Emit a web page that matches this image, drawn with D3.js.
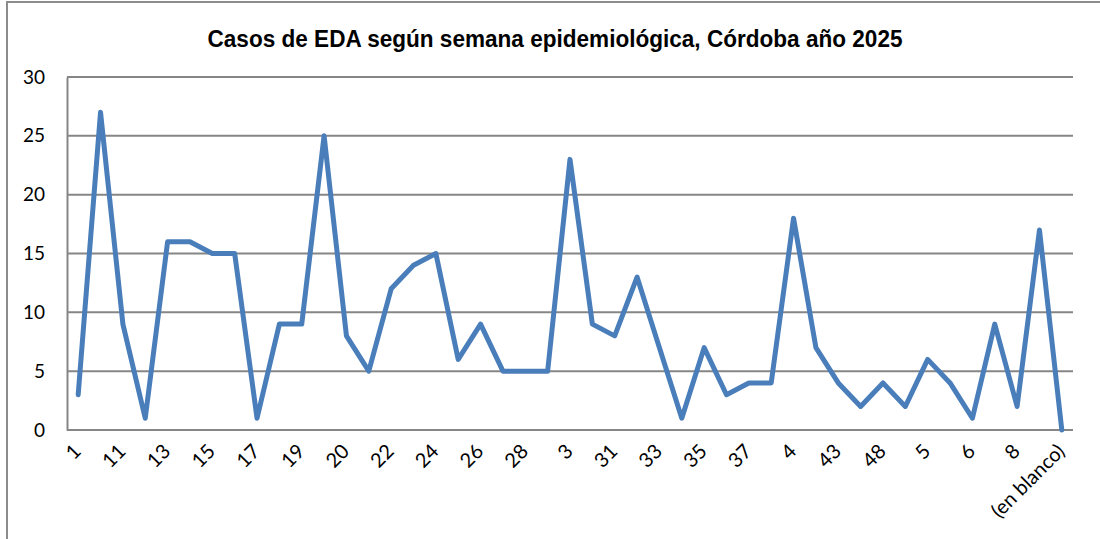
<!DOCTYPE html>
<html>
<head>
<meta charset="utf-8">
<script src="https://cdn.jsdelivr.net/npm/d3@7"></script>
<style>
  html, body { margin: 0; padding: 0; background: #fff; }
  svg { display: block; }
</style>
</head>
<body>
<script>
// Epidemiological weeks (as text, sorted the way the pivot table lists them)
const weeks = ["1","10","11","12","13","14","15","16","17","18","19","2","20","21","22","23",
  "24","25","26","27","28","29","3","30","31","32","33","34","35","36","37","39","4","41",
  "43","46","48","49","5","51","6","7","8","9","(en blanco)"];

// Cases of EDA per week
const cases = [3,27,9,1,16,16,15,15,1,9,9,25,8,5,12,14,15,6,9,5,5,5,23,9,8,13,7,1,7,3,
  4,4,18,7,4,2,4,2,6,4,1,9,2,17,0];

const yTicks = [0,5,10,15,20,25,30];
const titleText = "Casos de EDA según semana epidemiológica, Córdoba año 2025";

const W = 1100, H = 539;
const plot = { left: 67, right: 1073, top: 77, bottom: 430 };
const labelFont = "Lato, 'Open Sans', sans-serif";

const svg = d3.select("body").append("svg")
  .attr("width", W).attr("height", H);

// chart frame (top and left edges)
svg.append("path")
  .attr("d", `M7,${H} L7,2 L${W},2`)
  .attr("fill", "none").attr("stroke", "#8c8c8c").attr("stroke-width", 2);

// title
svg.append("text")
  .attr("x", 555).attr("y", 47)
  .attr("text-anchor", "middle")
  .attr("font-family", "'Liberation Sans Narrow', 'Liberation Sans', Arial, sans-serif")
  .attr("font-weight", "bold")
  .attr("font-size", 23)
  .attr("textLength", 695)
  .attr("lengthAdjust", "spacingAndGlyphs")
  .attr("fill", "#000")
  .text(titleText);

const x = d3.scalePoint().domain(weeks).range([plot.left, plot.right]).padding(0.5);
const y = d3.scaleLinear().domain([0, 30]).range([plot.bottom, plot.top]);

// horizontal gridlines
svg.append("g")
  .selectAll("line").data(yTicks).join("line")
  .attr("x1", plot.left).attr("x2", plot.right)
  .attr("y1", d => y(d)).attr("y2", d => y(d))
  .attr("stroke", "#868686").attr("stroke-width", 2);

// y axis
const yAxis = svg.append("g")
  .attr("transform", `translate(${plot.left},0)`)
  .call(d3.axisLeft(y).tickValues(yTicks).tickSize(0).tickPadding(22));
yAxis.select(".domain").attr("stroke", "#868686").attr("stroke-width", 2);
yAxis.selectAll("text")
  .attr("font-family", labelFont).attr("font-size", 19).attr("fill", "#000");

// x axis: every second week labelled, rotated
const xAxis = svg.append("g")
  .attr("transform", `translate(0,${plot.bottom})`)
  .call(d3.axisBottom(x).tickValues(weeks.filter((d, i) => i % 2 === 0)).tickSize(0));
xAxis.select(".domain").remove();
xAxis.selectAll("text")
  .attr("font-family", labelFont).attr("font-size", 20).attr("fill", "#000")
  .attr("text-anchor", "end")
  .attr("y", 0).attr("dy", "0.75em")
  .attr("transform", "translate(-7,12) rotate(-45)");

// series line
const line = d3.line()
  .x((d, i) => x(weeks[i]))
  .y(d => y(d));

svg.append("path")
  .datum(cases)
  .attr("d", line)
  .attr("fill", "none")
  .attr("stroke", "#4a7ebb")
  .attr("stroke-width", 5)
  .attr("stroke-linejoin", "round")
  .attr("stroke-linecap", "round");
</script>
</body>
</html>
